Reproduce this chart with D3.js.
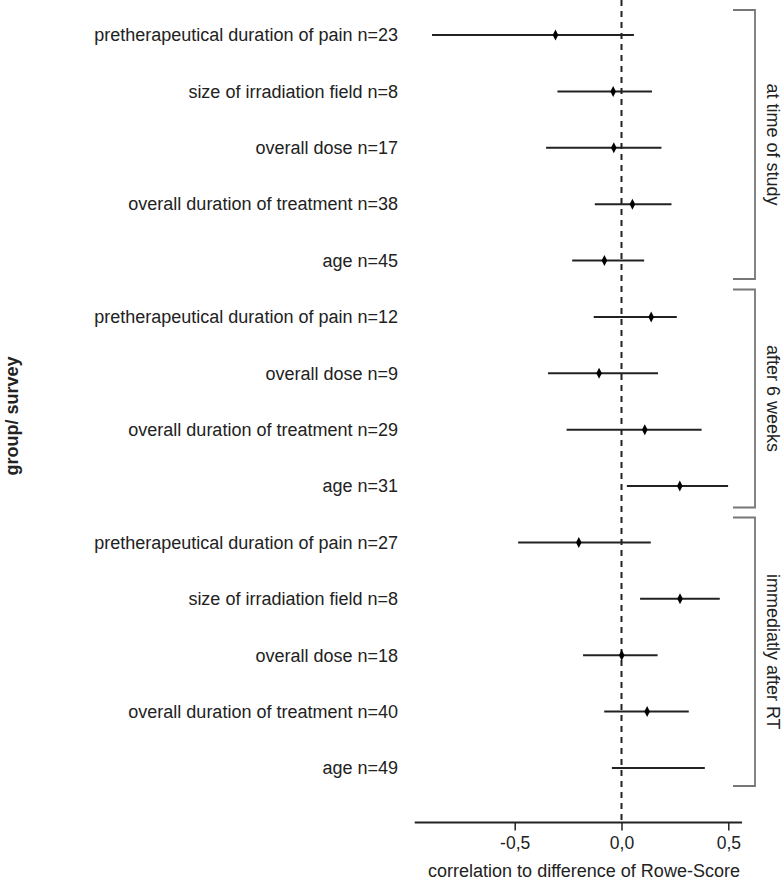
<!DOCTYPE html>
<html>
<head>
<meta charset="utf-8">
<script src="https://cdn.jsdelivr.net/npm/d3@7"></script>
<style>
  html, body { margin: 0; padding: 0; background: #fff; }
  svg { display: block; font-family: "Liberation Sans", Arial, sans-serif; }
</style>
</head>
<body>
<svg id="chart" width="784" height="880"></svg>
<script>
// ---- data ----
const labels = [
  "pretherapeutical duration of pain n=23",
  "size of irradiation field n=8",
  "overall dose n=17",
  "overall duration of treatment n=38",
  "age n=45",
  "pretherapeutical duration of pain n=12",
  "overall dose n=9",
  "overall duration of treatment n=29",
  "age n=31",
  "pretherapeutical duration of pain n=27",
  "size of irradiation field n=8",
  "overall dose n=18",
  "overall duration of treatment n=40",
  "age n=49"
];
const estimates = [-0.309, -0.039, -0.036, 0.051, -0.080, 0.139, -0.105, 0.109, 0.273, -0.200, 0.274, 0.001, 0.120, null];
const lowers    = [-0.887, -0.300, -0.353, -0.125, -0.231, -0.130, -0.344, -0.257, 0.025, -0.484, 0.087, -0.180, -0.081, -0.045];
const uppers    = [0.058, 0.143, 0.187, 0.234, 0.106, 0.259, 0.171, 0.375, 0.499, 0.137, 0.460, 0.169, 0.315, 0.390];
const groupNames = ["at time of study", "after 6 weeks", "immediatly after RT"];
const groupFirst = [0, 5, 9];
const groupLast  = [4, 8, 13];
const xTicks = [-0.5, 0, 0.5];
const xTickLabels = ["-0,5", "0,0", "0,5"];
const xTitle = "correlation to difference of Rowe-Score";
const yTitle = "group/ survey";

// ---- layout ----
const svg = d3.select("#chart");
const x = d3.scaleLinear().domain([-0.5, 0.5]).range([514.7, 728.3]);
const xDomainExt = [-0.968, 0.564];
const y = d3.scalePoint().domain(d3.range(labels.length)).range([35, 768]);
const axisY = 822.5;
const FS = "18px";

// zero reference dashed line
svg.append("line")
  .attr("x1", x(0)).attr("x2", x(0))
  .attr("y1", 0).attr("y2", axisY)
  .attr("stroke", "#222").attr("stroke-width", 2)
  .attr("stroke-dasharray", "6,5");

// x axis
const axis = d3.axisBottom(x)
  .tickValues(xTicks)
  .tickFormat((d, i) => xTickLabels[i])
  .tickSize(8)
  .tickSizeOuter(0)
  .tickPadding(6);
const gx = svg.append("g").attr("transform", `translate(0,${axisY})`).call(axis);
gx.select(".domain").remove();
gx.append("line")
  .attr("x1", x(xDomainExt[0])).attr("x2", x(xDomainExt[1]))
  .attr("stroke", "#222").attr("stroke-width", 2);
gx.selectAll(".tick line").attr("stroke", "#222").attr("stroke-width", 1.5);
gx.selectAll(".tick text")
  .attr("fill", "#222")
  .style("font-size", "17.5px")
  .style("font-family", "Liberation Sans, Arial, sans-serif");

svg.append("text")
  .attr("x", 584).attr("y", 877)
  .attr("text-anchor", "middle")
  .attr("fill", "#222")
  .style("font-size", FS)
  .text(xTitle);

// row labels
svg.append("g").selectAll("text")
  .data(labels)
  .join("text")
  .attr("x", 398)
  .attr("y", (d, i) => y(i))
  .attr("dy", "0.35em")
  .attr("text-anchor", "end")
  .attr("fill", "#222")
  .style("font-size", FS)
  .text(d => d);

// y title
svg.append("text")
  .attr("transform", "translate(12,416) rotate(-90)")
  .attr("text-anchor", "middle")
  .attr("dy", "0.35em")
  .attr("fill", "#222")
  .style("font-size", FS)
  .style("font-weight", "bold")
  .text(yTitle);

// CI lines
svg.append("g").selectAll("line")
  .data(labels.map((d, i) => i))
  .join("line")
  .attr("x1", i => x(lowers[i]))
  .attr("x2", i => x(uppers[i]))
  .attr("y1", i => y(i)).attr("y2", i => y(i))
  .attr("stroke", "#222").attr("stroke-width", 2);

// point estimates (diamonds)
svg.append("g").selectAll("path")
  .data(labels.map((d, i) => i).filter(i => estimates[i] !== null))
  .join("path")
  .attr("transform", i => `translate(${x(estimates[i])},${y(i)})`)
  .attr("d", "M0,-5.5L2.8,0L0,5.5L-2.8,0Z")
  .attr("fill", "#000");

// group brackets
const bx = 755, bxl = 733;
const bTop = [10, 289.5, 517.5];
const bBot = [279, 507.5, 786];
const bg = svg.append("g");
groupNames.forEach((name, g) => {
  const t = bTop[g], b = bBot[g];
  bg.append("path")
    .attr("d", `M${bxl},${t}H${bx}V${b}H${bxl}`)
    .attr("fill", "none")
    .attr("stroke", "#777").attr("stroke-width", 1.8);
  bg.append("text")
    .attr("transform", `translate(773,${(t + b) / 2}) rotate(90)`)
    .attr("text-anchor", "middle")
    .attr("dy", "0.35em")
    .attr("fill", "#222")
    .style("font-size", FS)
    .text(name);
});
</script>
</body>
</html>
